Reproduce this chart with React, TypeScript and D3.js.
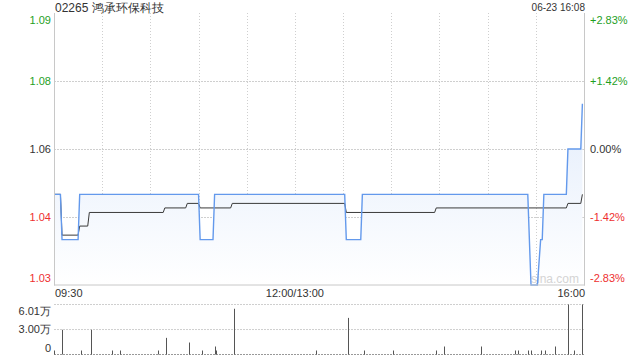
import React from 'react';
import * as d3 from 'd3';

const TITLE = '02265 鸿承环保科技';
const STAMP = '06-23 16:08';
const PRICE_TICKS = [1.09, 1.075, 1.06, 1.045, 1.03];
const PRICE_LABELS = ['1.09', '1.08', '1.06', '1.04', '1.03'];
const PCT_LABELS = ['+2.83%', '+1.42%', '0.00%', '-1.42%', '-2.83%'];
const TIME_LABELS = ['09:30', '12:00/13:00', '16:00'];
const TIME_LABEL_AT = ['09:30', '12:00', '16:00'];
const VOL_TICKS = [6.01, 3.0, 0];
const VOL_LABELS = ['6.01万', '3.00万', '0'];

const priceTimes = ['09:30', '09:34', '09:35', '09:45', '09:46', '11:00', '11:01', '11:09', '11:10', '13:31', '13:32', '13:41', '13:42', '15:25', '15:27', '15:31', '15:33', '15:34', '15:35', '15:49', '15:50', '15:58', '15:59'];
const priceValues = [1.05, 1.05, 1.04, 1.04, 1.05, 1.05, 1.04, 1.04, 1.05, 1.05, 1.04, 1.04, 1.05, 1.05, 1.03, 1.03, 1.04, 1.04, 1.05, 1.05, 1.06, 1.06, 1.07];

const avgTimes = ['09:30', '09:34', '09:35', '09:45', '09:46', '09:51', '09:52', '10:38', '10:39', '10:52', '10:53', '11:00', '11:01', '11:20', '11:21', '13:31', '13:32', '14:27', '14:28', '15:49', '15:50', '15:58', '15:59'];
const avgValues = [1.05, 1.05, 1.041, 1.041, 1.043, 1.043, 1.046, 1.046, 1.047, 1.047, 1.048, 1.048, 1.047, 1.047, 1.048, 1.048, 1.046, 1.046, 1.047, 1.047, 1.048, 1.048, 1.05];

const volTimes = ['09:30', '09:35', '09:47', '09:53', '10:06', '10:11', '10:35', '10:40', '10:54', '11:02', '11:10', '11:11', '11:22', '13:13', '13:33', '13:43', '14:01', '14:28', '14:33', '14:56', '15:17', '15:19', '15:25', '15:27', '15:33', '15:36', '15:42', '15:50', '15:54', '15:59'];
const volValues = [0.48, 2.97, 0.48, 2.97, 0.48, 0.48, 0.48, 2.0, 1.44, 0.48, 0.96, 0.48, 5.5, 0.48, 4.4, 0.48, 0.48, 0.48, 0.96, 0.96, 0.48, 0.48, 0.48, 0.48, 0.48, 0.48, 0.96, 6.01, 0.48, 6.01];

function idx(t: string): number {
  const [h, m] = t.split(':').map(Number);
  let mins = h * 60 + m - (9 * 60 + 30);
  if (h >= 13) mins -= 60;
  return mins;
}

const FONT = '"Liberation Sans", Arial, sans-serif';
const GREEN = '#1f9f1f';
const RED = '#ee3030';
const TXT = '#333';

export default function App() {
  const L = 54, R = 584, T = 13, B = 285;
  const x = d3.scaleLinear().domain([0, 330]).range([L, R]);
  const y = d3.scaleLinear().domain([1.03, 1.09]).range([B, T]);
  const yv = d3.scaleLinear().domain([0, 6.01]).range([354.5, 304.5]);

  const pricePts: [number, number][] = priceTimes.map((t, i) => [x(idx(t)), y(priceValues[i])]);
  const avgPts: [number, number][] = avgTimes.map((t, i) => [x(idx(t)), y(avgValues[i])]);
  const line = d3.line<[number, number]>().x(d => d[0]).y(d => d[1]);
  const area = d3.area<[number, number]>().x(d => d[0]).y0(B).y1(d => d[1]);

  const labelColor = (i: number) => (i < 2 ? GREEN : i === 2 ? TXT : RED);
  const labelY = (i: number) => {
    const g = y(PRICE_TICKS[i]);
    if (i === 0) return g + 7.5;
    if (i === PRICE_TICKS.length - 1) return g - 7;
    return g;
  };
  const vGrid = d3.range(30, 330, 30);

  return (
    <div style={{ position: 'fixed', left: 0, top: 0 }}>
      <svg width={640} height={360} style={{ display: 'block', background: '#fff' }} fontFamily={FONT}>
        <defs>
          <linearGradient id="ag" gradientUnits="userSpaceOnUse" x1={0} y1={T} x2={0} y2={B}>
            <stop offset="0" stopColor="#d6e4fa" />
            <stop offset="1" stopColor="#ffffff" />
          </linearGradient>
        </defs>
        <text x={55} y={12} fontSize={12} fill={TXT}>{TITLE}</text>
        <text x={585} y={11} fontSize={10} fill={TXT} textAnchor="end">{STAMP}</text>

        {/* grid */}
        {vGrid.map(i => (
          <line key={'v' + i} x1={Math.round(x(i)) + 0.5} x2={Math.round(x(i)) + 0.5} y1={T} y2={B}
            stroke="#cfcfcf" strokeDasharray="1,2" />
        ))}
        {PRICE_TICKS.slice(1, 4).map(p => (
          <line key={'h' + p} x1={L} x2={R} y1={Math.round(y(p)) + 0.5} y2={Math.round(y(p)) + 0.5}
            stroke="#cfcfcf" strokeDasharray="2,1" />
        ))}

        <path d={area(pricePts) || ''} fill="url(#ag)" />
        <text x={531} y={283} fontSize={12} fill="#d4d4d4">sina.com</text>
        <path d={line(avgPts) || ''} fill="none" stroke="#3a3a3a" strokeWidth={1} />
        <path d={line(pricePts) || ''} fill="none" stroke="#6399ec" strokeWidth={1.4} />

        {/* frame */}
        <line x1={L + 0.5} x2={L + 0.5} y1={T} y2={B + 0.5} stroke="#c8c8c8" />
        <line x1={R + 0.5} x2={R + 0.5} y1={T} y2={B + 0.5} stroke="#c8c8c8" />
        <line x1={L} x2={R + 1} y1={B - 0.5 + 0.5} y2={B - 0.5 + 0.5} stroke="#c8c8c8" />

        {PRICE_TICKS.map((p, i) => (
          <text key={'pl' + i} x={51} y={labelY(i)} dy="0.35em" fontSize={11} textAnchor="end" fill={labelColor(i)}>
            {PRICE_LABELS[i]}
          </text>
        ))}
        {PRICE_TICKS.map((p, i) => (
          <text key={'pp' + i} x={590} y={labelY(i)} dy="0.35em" fontSize={11} textAnchor="start" fill={labelColor(i)}>
            {PCT_LABELS[i]}
          </text>
        ))}

        {TIME_LABELS.map((s, i) => (
          <text key={'t' + i} x={i === 0 ? 55 : i === 2 ? 585 : x(idx(TIME_LABEL_AT[i]))} y={297}
            fontSize={11} fill={TXT} textAnchor={i === 0 ? 'start' : i === 2 ? 'end' : 'middle'}>
            {s}
          </text>
        ))}

        {/* volume */}
        {VOL_TICKS.map((v, i) => (
          <line key={'vg' + i} x1={L} x2={R} y1={yv(v)} y2={yv(v)}
            stroke={i === 2 ? '#999' : '#cfcfcf'} strokeDasharray={i === 2 ? '2,1' : '2,1'} />
        ))}
        {volTimes.map((t, i) => {
          const xx = Math.round(x(idx(t)));
          return <rect key={'b' + i} x={xx} y={yv(volValues[i])} width={1} height={yv(0) - yv(volValues[i])} fill="#555" />;
        })}
        {VOL_TICKS.map((v, i) => (
          <text key={'vl' + i} x={51} y={i === 0 ? yv(v) + 7 : i === 2 ? yv(v) - 6 : yv(v)} dy="0.35em"
            fontSize={11} textAnchor="end" fill={TXT}>
            {VOL_LABELS[i]}
          </text>
        ))}
      </svg>
    </div>
  );
}
